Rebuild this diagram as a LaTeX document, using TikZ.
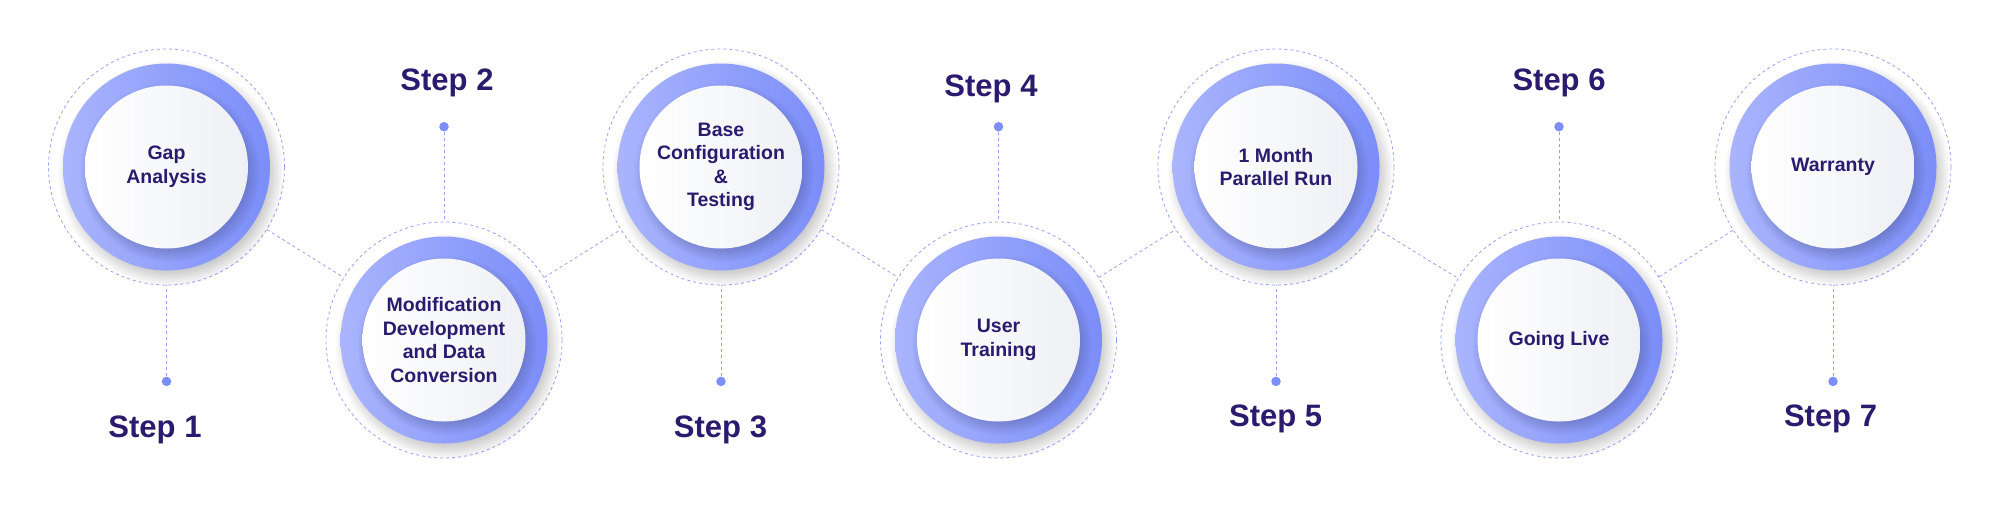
\documentclass[tikz,border=0pt]{standalone}
\usepackage{fontspec}
\setmainfont{Liberation Sans}
\usetikzlibrary{fadings}
\definecolor{ink}{HTML}{2A1B6E}
\definecolor{ringL}{HTML}{AAB5FD}
\definecolor{ringR}{HTML}{7B8DF9}
\definecolor{dashc}{HTML}{93A2F9}
\definecolor{dotc}{HTML}{7B8EF9}
\definecolor{wR}{HTML}{EEF0F5}
\definecolor{shadc}{HTML}{3C4373}
\begin{document}
\begin{tikzpicture}[x=1pt,y=-1pt,
  ring/.style={circle, minimum size=207pt, inner sep=0pt, left color=ringL, right color=ringR, draw=none},
  disc/.style={circle, minimum size=163pt, inner sep=0pt, left color=white, right color=wR, draw=none,
    font=\bfseries\fontsize{19.5}{23.5}\selectfont, text=ink, align=center},
  halo/.style={circle, minimum size=236pt, inner sep=0pt, draw=dashc, dash pattern=on 3pt off 3pt, line width=0.8pt},
  conn/.style={draw=dashc, dash pattern=on 3pt off 3pt, line width=0.8pt},
  dotn/.style={circle, fill=dotc, minimum size=9.5pt, inner sep=0pt},
  steplabel/.style={font=\bfseries\fontsize{31}{37}\selectfont, text=ink, anchor=base},
  ringshadow/.style={fill=black, fill opacity=0.28, path fading=circle with fuzzy edge 20 percent},
  discshadow/.style={fill=shadc, fill opacity=0.30, path fading=circle with fuzzy edge 15 percent}
]
\useasboundingbox (0,0) rectangle (2000,504);
\fill[white] (0,0) rectangle (2000,504);

% positions
\coordinate (p1) at (166.5,167);
\coordinate (p2) at (444,340);
\coordinate (p3) at (721,167);
\coordinate (p4) at (998.5,340);
\coordinate (p5) at (1276,167);
\coordinate (p6) at (1559,340);
\coordinate (p7) at (1833,167);

% dashed halos
\foreach \i in {1,...,7} \node[halo] (d\i) at (p\i) {};

% connectors between halos
\draw[conn] (d1) -- (d2);
\draw[conn] (d2) -- (d3);
\draw[conn] (d3) -- (d4);
\draw[conn] (d4) -- (d5);
\draw[conn] (d5) -- (d6);
\draw[conn] (d6) -- (d7);

% dots
\node[dotn] (t1) at (166.5,381.4) {};
\node[dotn] (t2) at (444,126.7) {};
\node[dotn] (t3) at (721,381.4) {};
\node[dotn] (t4) at (998.5,126.7) {};
\node[dotn] (t5) at (1276,381.4) {};
\node[dotn] (t6) at (1559,126.7) {};
\node[dotn] (t7) at (1833,381.4) {};
\foreach \i in {1,...,7} \draw[conn] (t\i) -- (d\i);

% rings with soft shadows
\foreach \i in {1,...,7} {
  \path[ringshadow] ([shift={(4,6)}]p\i) circle[radius=113];
  \node[ring] (r\i) at (p\i) {};
  \path[discshadow] ([shift={(3,5)}]p\i) circle[radius=90];
}

% discs
\node[disc] (w1) at (p1) {\raisebox{4pt}{\begin{tabular}{@{}c@{}}Gap\\Analysis\end{tabular}}};
\node[disc] (w2) at (p2) {Modification\\Development\\and Data\\Conversion};
\node[disc] (w3) at (p3) {Base\\Configuration\\\&\\Testing};
\node[disc] (w4) at (p4) {User\\Training};
\node[disc] (w5) at (p5) {1 Month\\Parallel Run};
\node[disc] (w6) at (p6) {Going Live};
\node[disc] (w7) at (p7) {Warranty};

% step labels
\node[steplabel] (s1) at (155,437) {Step 1};
\node[steplabel] (s2) at (447,90) {Step 2};
\node[steplabel] (s3) at (720.5,437) {Step 3};
\node[steplabel] (s4) at (991,96.8) {Step 4};
\node[steplabel] (s5) at (1275.7,426) {Step 5};
\node[steplabel] (s6) at (1559,90) {Step 6};
\node[steplabel] (s7) at (1830.5,426) {Step 7};
\end{tikzpicture}
\end{document}
